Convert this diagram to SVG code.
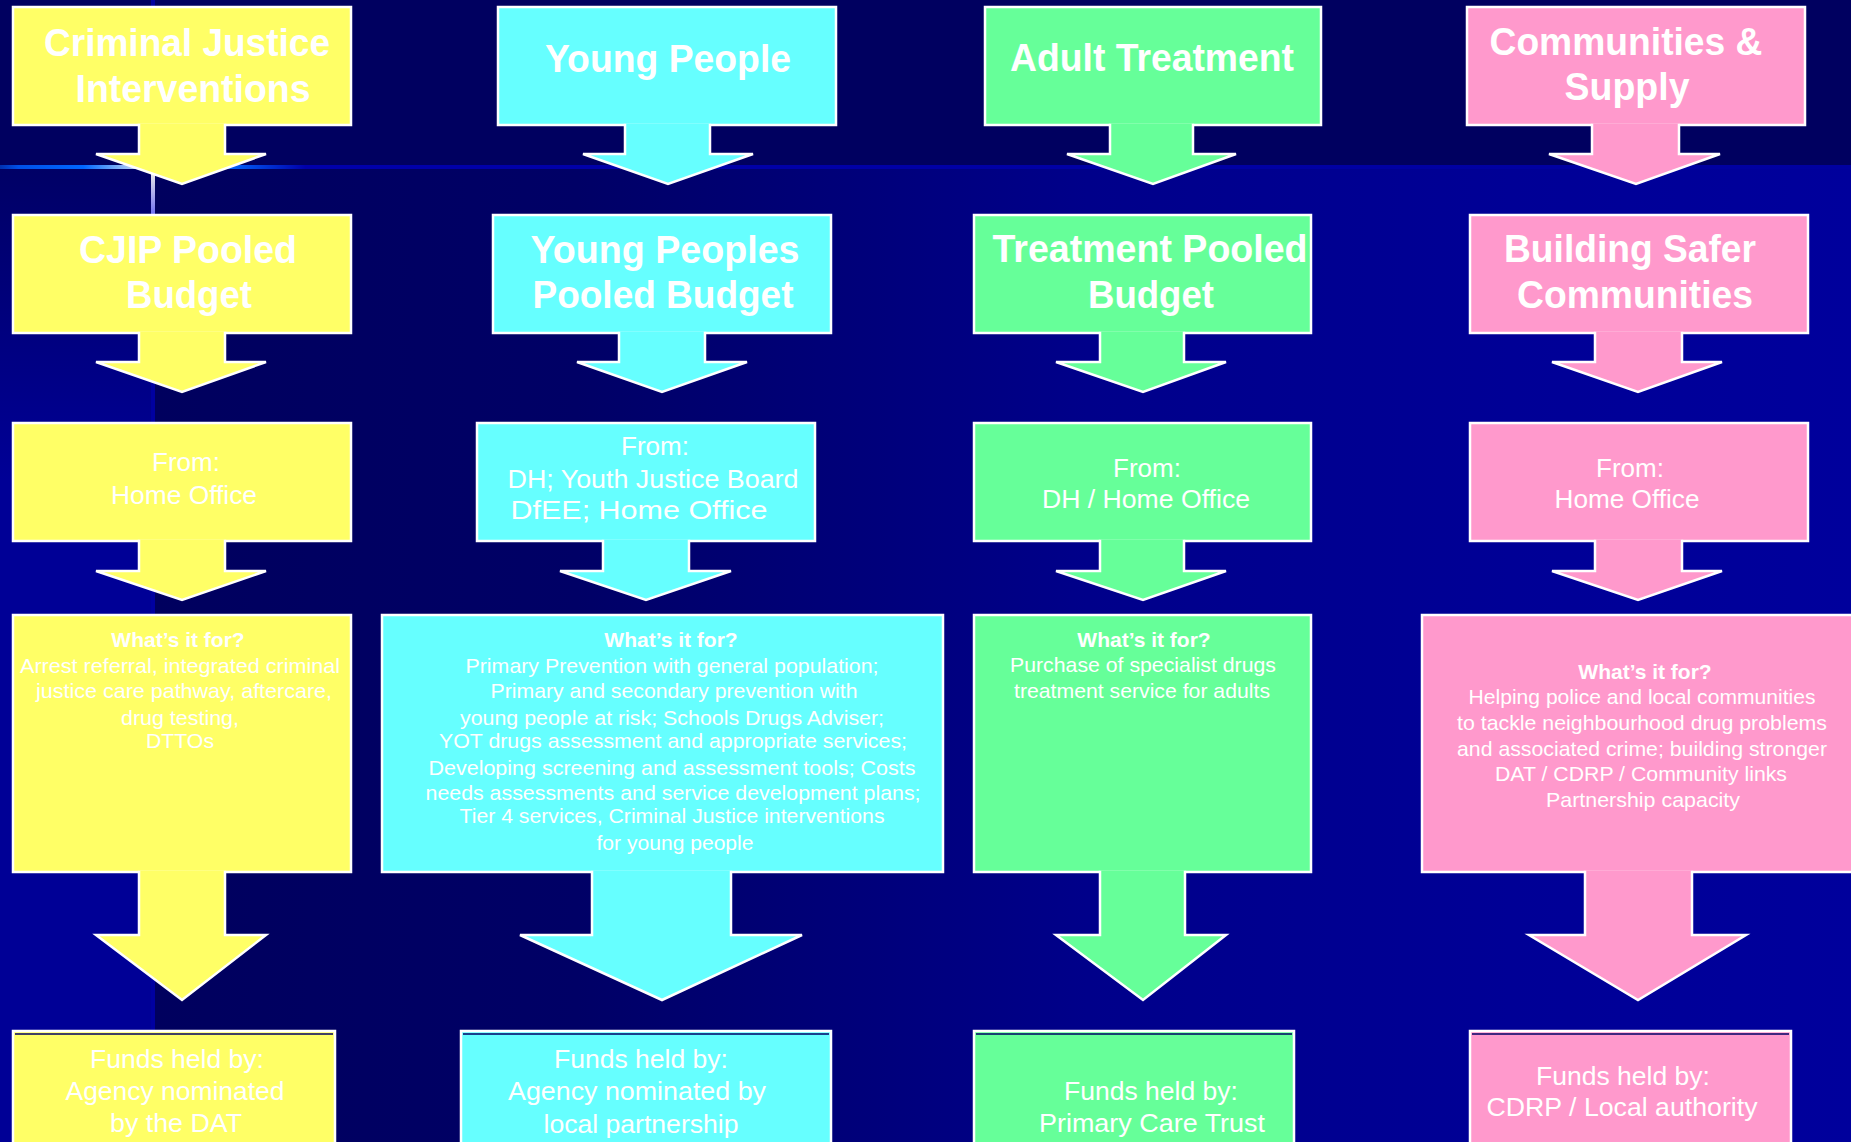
<svg xmlns="http://www.w3.org/2000/svg" width="1851" height="1142" viewBox="0 0 1851 1142">
<defs>
<style>
.bx{stroke:#ffffff;stroke-width:2.5}
.y{fill:#FFFF66}.c{fill:#66FFFF}.g{fill:#66FF99}.p{fill:#FF99CC}
.ar{stroke:#ffffff;stroke-width:2.5;stroke-linejoin:miter}
.t{font-family:"Liberation Sans",Arial,sans-serif;fill:#ffffff;text-anchor:middle}
.h{font-size:38px;font-weight:bold}
.m{font-size:26px}
.s{font-size:21px}
.b{font-weight:bold}
.inner{stroke:#000066;stroke-width:1.5}
</style>
<linearGradient id="lowGrad" gradientUnits="userSpaceOnUse" x1="153" y1="0" x2="1851" y2="0">
<stop offset="0" stop-color="#00005E"/>
<stop offset="0.25" stop-color="#000066"/>
<stop offset="0.55" stop-color="#00008A"/>
<stop offset="0.8" stop-color="#000096"/>
<stop offset="1" stop-color="#00009C"/>
</linearGradient>
<linearGradient id="leftGrad" gradientUnits="userSpaceOnUse" x1="0" y1="169" x2="0" y2="480">
<stop offset="0" stop-color="#000066"/>
<stop offset="1" stop-color="#000096"/>
</linearGradient>
<linearGradient id="hLine" gradientUnits="userSpaceOnUse" x1="0" y1="0" x2="1851" y2="0">
<stop offset="0" stop-color="#0030B0"/>
<stop offset="0.01" stop-color="#0050E8"/>
<stop offset="0.045" stop-color="#0066FF"/>
<stop offset="0.082" stop-color="#F4F4F0"/>
<stop offset="0.123" stop-color="#0066FF"/>
<stop offset="0.165" stop-color="#0000AA"/>
<stop offset="1" stop-color="#0000A0"/>
</linearGradient>
<linearGradient id="vLine" gradientUnits="userSpaceOnUse" x1="0" y1="169" x2="0" y2="214">
<stop offset="0" stop-color="#F4F4E8"/>
<stop offset="1" stop-color="#7070F0"/>
</linearGradient>
</defs>

<g id="background">
<rect x="0" y="0" width="1851" height="1142" fill="#000060"/>
<rect x="153" y="167" width="1698" height="975" fill="url(#lowGrad)"/>
<rect x="0" y="167" width="153" height="975" fill="url(#leftGrad)"/>
<rect x="151" y="0" width="4" height="167" fill="#0000A0"/>
<rect x="151" y="169" width="4" height="973" fill="#0000A0"/>
<rect x="151" y="169" width="4" height="45" fill="url(#vLine)"/>
<rect x="0" y="165" width="1851" height="4" fill="url(#hLine)"/>
</g>

<g id="node-cji">
<rect class="bx y" x="13" y="7" width="338" height="118"/>
<text class="t h" x="187" y="56" textLength="286" lengthAdjust="spacingAndGlyphs">Criminal Justice</text>
<text class="t h" x="193" y="102" textLength="235" lengthAdjust="spacingAndGlyphs">Interventions</text>
</g>
<g id="node-yp">
<rect class="bx c" x="498" y="7" width="338" height="118"/>
<text class="t h" x="668" y="72" textLength="246" lengthAdjust="spacingAndGlyphs">Young People</text>
</g>
<g id="node-at">
<rect class="bx g" x="985" y="7" width="336" height="118"/>
<text class="t h" x="1152" y="71" textLength="284" lengthAdjust="spacingAndGlyphs">Adult Treatment</text>
</g>
<g id="node-cs">
<rect class="bx p" x="1467" y="7" width="338" height="118"/>
<text class="t h" x="1626" y="55" textLength="273" lengthAdjust="spacingAndGlyphs">Communities &amp;</text>
<text class="t h" x="1627" y="100" textLength="125" lengthAdjust="spacingAndGlyphs">Supply</text>
</g>

<g id="node-cjip">
<rect class="bx y" x="13" y="215" width="338" height="118"/>
<text class="t h" x="188" y="263" textLength="218" lengthAdjust="spacingAndGlyphs">CJIP Pooled</text>
<text class="t h" x="189" y="308" textLength="126" lengthAdjust="spacingAndGlyphs">Budget</text>
</g>
<g id="node-yppb">
<rect class="bx c" x="493" y="215" width="338" height="118"/>
<text class="t h" x="665" y="263" textLength="269" lengthAdjust="spacingAndGlyphs">Young Peoples</text>
<text class="t h" x="663" y="308" textLength="261" lengthAdjust="spacingAndGlyphs">Pooled Budget</text>
</g>
<g id="node-tpb">
<rect class="bx g" x="974" y="215" width="337" height="118"/>
<text class="t h" x="1150" y="262" textLength="315" lengthAdjust="spacingAndGlyphs">Treatment Pooled</text>
<text class="t h" x="1151" y="308" textLength="126" lengthAdjust="spacingAndGlyphs">Budget</text>
</g>
<g id="node-bsc">
<rect class="bx p" x="1470" y="215" width="338" height="118"/>
<text class="t h" x="1630" y="262" textLength="252" lengthAdjust="spacingAndGlyphs">Building Safer</text>
<text class="t h" x="1635" y="308" textLength="236" lengthAdjust="spacingAndGlyphs">Communities</text>
</g>

<g id="node-from-cji">
<rect class="bx y" x="13" y="423" width="338" height="118"/>
<text class="t m" x="186" y="471">From:</text>
<text class="t m" x="184" y="504" textLength="146" lengthAdjust="spacingAndGlyphs">Home Office</text>
</g>
<g id="node-from-yp">
<rect class="bx c" x="477" y="423" width="338" height="118"/>
<text class="t m" x="655" y="455">From:</text>
<text class="t m" x="653" y="488" textLength="291" lengthAdjust="spacingAndGlyphs">DH; Youth Justice Board</text>
<text class="t m" x="639" y="519" textLength="257" lengthAdjust="spacingAndGlyphs">DfEE; Home Office</text>
</g>
<g id="node-from-at">
<rect class="bx g" x="974" y="423" width="337" height="118"/>
<text class="t m" x="1147" y="477">From:</text>
<text class="t m" x="1146" y="508" textLength="208" lengthAdjust="spacingAndGlyphs">DH / Home Office</text>
</g>
<g id="node-from-cs">
<rect class="bx p" x="1470" y="423" width="338" height="118"/>
<text class="t m" x="1630" y="477">From:</text>
<text class="t m" x="1627" y="508" textLength="145" lengthAdjust="spacingAndGlyphs">Home Office</text>
</g>

<g id="node-for-cji">
<rect class="bx y" x="13" y="615" width="338" height="257"/>
<text class="t s b" x="178" y="647">What’s it for?</text>
<text class="t s" x="180" y="673" textLength="320" lengthAdjust="spacingAndGlyphs">Arrest referral, integrated criminal</text>
<text class="t s" x="184" y="698" textLength="296" lengthAdjust="spacingAndGlyphs">justice care pathway, aftercare,</text>
<text class="t s" x="180" y="725" textLength="118" lengthAdjust="spacingAndGlyphs">drug testing,</text>
<text class="t s" x="180" y="748" textLength="68" lengthAdjust="spacingAndGlyphs">DTTOs</text>
</g>
<g id="node-for-yp">
<rect class="bx c" x="382" y="615" width="561" height="257"/>
<text class="t s b" x="671" y="647">What’s it for?</text>
<text class="t s" x="672" y="673" textLength="413" lengthAdjust="spacingAndGlyphs">Primary Prevention with general population;</text>
<text class="t s" x="674" y="698" textLength="367" lengthAdjust="spacingAndGlyphs">Primary and secondary prevention with</text>
<text class="t s" x="672" y="725" textLength="424" lengthAdjust="spacingAndGlyphs">young people at risk; Schools Drugs Adviser;</text>
<text class="t s" x="673" y="748" textLength="468" lengthAdjust="spacingAndGlyphs">YOT drugs assessment and appropriate services;</text>
<text class="t s" x="672" y="775" textLength="487" lengthAdjust="spacingAndGlyphs">Developing screening and assessment tools; Costs</text>
<text class="t s" x="673" y="800" textLength="495" lengthAdjust="spacingAndGlyphs">needs assessments and service development plans;</text>
<text class="t s" x="672" y="823" textLength="425" lengthAdjust="spacingAndGlyphs">Tier 4 services, Criminal Justice interventions</text>
<text class="t s" x="675" y="850" textLength="157" lengthAdjust="spacingAndGlyphs">for young people</text>
</g>
<g id="node-for-at">
<rect class="bx g" x="974" y="615" width="337" height="257"/>
<text class="t s b" x="1144" y="647">What’s it for?</text>
<text class="t s" x="1143" y="672" textLength="266" lengthAdjust="spacingAndGlyphs">Purchase of specialist drugs</text>
<text class="t s" x="1142" y="698" textLength="256" lengthAdjust="spacingAndGlyphs">treatment service for adults</text>
</g>
<g id="node-for-cs">
<rect class="bx p" x="1422" y="615" width="440" height="257"/>
<text class="t s b" x="1645" y="679">What’s it for?</text>
<text class="t s" x="1642" y="704" textLength="347" lengthAdjust="spacingAndGlyphs">Helping police and local communities</text>
<text class="t s" x="1642" y="730" textLength="370" lengthAdjust="spacingAndGlyphs">to tackle neighbourhood drug problems</text>
<text class="t s" x="1642" y="756" textLength="370" lengthAdjust="spacingAndGlyphs">and associated crime; building stronger</text>
<text class="t s" x="1641" y="781" textLength="292" lengthAdjust="spacingAndGlyphs">DAT / CDRP / Community links</text>
<text class="t s" x="1643" y="807" textLength="194" lengthAdjust="spacingAndGlyphs">Partnership capacity</text>
</g>

<g id="node-funds-cji">
<rect class="bx y" x="13" y="1031" width="322" height="140"/>
<line class="inner" x1="15" y1="1034" x2="333" y2="1034"/>
<text class="t m" x="177" y="1068" textLength="174" lengthAdjust="spacingAndGlyphs">Funds held by:</text>
<text class="t m" x="175" y="1100" textLength="219" lengthAdjust="spacingAndGlyphs">Agency nominated</text>
<text class="t m" x="176" y="1132" textLength="132" lengthAdjust="spacingAndGlyphs">by the DAT</text>
</g>
<g id="node-funds-yp">
<rect class="bx c" x="461" y="1031" width="370" height="140"/>
<line class="inner" x1="463" y1="1034" x2="829" y2="1034"/>
<text class="t m" x="641" y="1068" textLength="174" lengthAdjust="spacingAndGlyphs">Funds held by:</text>
<text class="t m" x="637" y="1100" textLength="258" lengthAdjust="spacingAndGlyphs">Agency nominated by</text>
<text class="t m" x="641" y="1133" textLength="195" lengthAdjust="spacingAndGlyphs">local partnership</text>
</g>
<g id="node-funds-at">
<rect class="bx g" x="974" y="1031" width="320" height="140"/>
<line class="inner" x1="976" y1="1034" x2="1292" y2="1034"/>
<text class="t m" x="1151" y="1100" textLength="174" lengthAdjust="spacingAndGlyphs">Funds held by:</text>
<text class="t m" x="1152" y="1132" textLength="226" lengthAdjust="spacingAndGlyphs">Primary Care Trust</text>
</g>
<g id="node-funds-cs">
<rect class="bx p" x="1470" y="1031" width="321" height="140"/>
<line class="inner" x1="1472" y1="1034" x2="1789" y2="1034"/>
<text class="t m" x="1623" y="1085" textLength="174" lengthAdjust="spacingAndGlyphs">Funds held by:</text>
<text class="t m" x="1622" y="1116" textLength="271" lengthAdjust="spacingAndGlyphs">CDRP / Local authority</text>
</g>

<g id="connectors">
<path class="ar y" d="M139,123.7 L139,154 L96,154 L182,184 L266,154 L225,154 L225,123.7"/>
<path class="ar c" d="M625,123.7 L625,154 L583,154 L668,184 L753,154 L710,154 L710,123.7"/>
<path class="ar g" d="M1110,123.7 L1110,154 L1067,154 L1153,184 L1236,154 L1193,154 L1193,123.7"/>
<path class="ar p" d="M1592,123.7 L1592,154 L1549,154 L1636,184 L1720,154 L1679,154 L1679,123.7"/>

<path class="ar y" d="M139,331.7 L139,362 L96,362 L182,392 L266,362 L225,362 L225,331.7"/>
<path class="ar c" d="M619,331.7 L619,362 L577,362 L662,392 L747,362 L705,362 L705,331.7"/>
<path class="ar g" d="M1100,331.7 L1100,362 L1056,362 L1143,392 L1226,362 L1184,362 L1184,331.7"/>
<path class="ar p" d="M1595,331.7 L1595,362 L1552,362 L1638,392 L1722,362 L1682,362 L1682,331.7"/>

<path class="ar y" d="M139,539.7 L139,571 L96,571 L182,600 L266,571 L225,571 L225,539.7"/>
<path class="ar c" d="M603,539.7 L603,571 L560,571 L646,600 L731,571 L689,571 L689,539.7"/>
<path class="ar g" d="M1100,539.7 L1100,571 L1056,571 L1143,600 L1226,571 L1184,571 L1184,539.7"/>
<path class="ar p" d="M1595,539.7 L1595,571 L1552,571 L1638,600 L1722,571 L1682,571 L1682,539.7"/>

<path class="ar y" d="M139,870.7 L139,935 L96,935 L182,1000 L266,935 L225,935 L225,870.7"/>
<path class="ar c" d="M592,870.7 L592,935 L520,935 L662,1000 L802,935 L731,935 L731,870.7"/>
<path class="ar g" d="M1100,870.7 L1100,935 L1056,935 L1143,1000 L1226,935 L1185,935 L1185,870.7"/>
<path class="ar p" d="M1585,870.7 L1585,935 L1529,935 L1638,1000 L1746,935 L1692,935 L1692,870.7"/>
</g>
</svg>
